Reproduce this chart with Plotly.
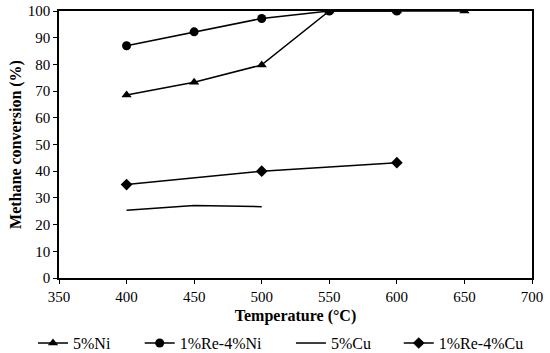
import plotly.graph_objects as go

temps_ni = [400, 450, 500, 550, 600, 650]
ni5 = [68.5, 73.3, 79.8, 100, 100, 100]
temps_reni = [400, 450, 500, 550, 600]
re_ni = [87.0, 92.2, 97.2, 100, 100]
temps_cu = [400, 450, 500]
cu5 = [25.4, 27.2, 26.7]
temps_recu = [400, 500, 600]
re_cu = [35.0, 40.0, 43.2]

FONT = "Liberation Serif"

fig = go.Figure()
fig.add_trace(go.Scatter(x=temps_ni, y=ni5, name="5%Ni", mode="lines+markers", legend="legend",
                         line=dict(color="black", width=1.5),
                         marker=dict(symbol="triangle-up", size=9, color="black")))
fig.add_trace(go.Scatter(x=temps_reni, y=re_ni, name="1%Re-4%Ni", mode="lines+markers", legend="legend2",
                         line=dict(color="black", width=1.5),
                         marker=dict(symbol="circle", size=9, color="black")))
fig.add_trace(go.Scatter(x=temps_cu, y=cu5, name="5%Cu", mode="lines", legend="legend3",
                         line=dict(color="black", width=1.5)))
fig.add_trace(go.Scatter(x=temps_recu, y=re_cu, name="1%Re-4%Cu", mode="lines+markers", legend="legend4",
                         line=dict(color="black", width=1.5),
                         marker=dict(symbol="diamond", size=9, color="black")))

def leg(x):
    return dict(orientation="h", xref="container", yref="container", x=x, xanchor="left",
                y=0.028, yanchor="middle", font=dict(family=FONT, size=16, color="black"),
                bgcolor="rgba(0,0,0,0)", borderwidth=0)

fig.update_layout(
    width=550, height=353,
    margin=dict(l=59, r=18, t=11, b=75, autoexpand=False),
    paper_bgcolor="white", plot_bgcolor="white",
    font=dict(family=FONT, size=15, color="black"),
    showlegend=True,
    legend=leg(0.060), legend2=leg(0.254), legend3=leg(0.529), legend4=leg(0.725),
)
fig.update_xaxes(range=[350, 700], dtick=50, showline=True, linecolor="black", linewidth=1.5,
                 mirror=True, ticks="outside", ticklen=4, tickcolor="black", showgrid=False,
                 zeroline=False, ticklabeloverflow="allow",
                 title=dict(text="<b>Temperature (°C)</b>", font=dict(family=FONT, size=16), standoff=6),
                 tickfont=dict(family=FONT, size=15))
fig.update_yaxes(range=[0, 100], dtick=10, showline=True, linecolor="black", linewidth=1.5,
                 mirror=True, ticks="outside", ticklen=4, tickcolor="black", showgrid=False,
                 zeroline=False, ticklabeloverflow="allow",
                 title=dict(text="<b>Methane conversion (%)</b>", font=dict(family=FONT, size=16), standoff=2),
                 tickfont=dict(family=FONT, size=15))

fig.write_html("out.html", config={"displayModeBar": False},
               post_script="document.body.style.margin='0';")
